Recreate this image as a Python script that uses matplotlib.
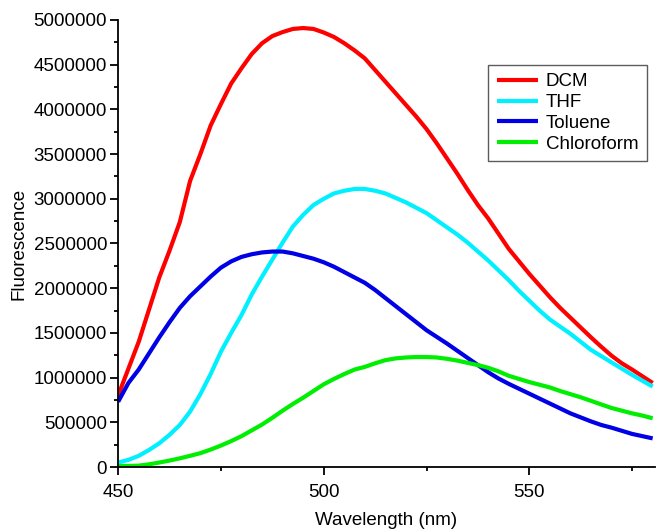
import matplotlib
matplotlib.use("Agg")
import matplotlib.pyplot as plt
from matplotlib.ticker import MultipleLocator, FuncFormatter

plt.rcParams['font.family'] = ['Liberation Sans', 'DejaVu Sans']

wavelength = [450, 452.5, 455, 457.5, 460, 462.5, 465, 467.5, 470, 472.5,
              475, 477.5, 480, 482.5, 485, 487.5, 490, 492.5, 495, 497.5,
              500, 502.5, 505, 507.5, 510, 512.5, 515, 517.5, 520, 522.5,
              525, 527.5, 530, 532.5, 535, 537.5, 540, 542.5, 545, 547.5,
              550, 552.5, 555, 557.5, 560, 562.5, 565, 567.5, 570, 572.5,
              575, 577.5, 580]

dcm = [800000, 1100000, 1400000, 1760000, 2120000, 2420000, 2740000, 3200000,
       3500000, 3820000, 4060000, 4290000, 4460000, 4620000, 4740000, 4820000,
       4865000, 4900000, 4910000, 4900000, 4860000, 4810000, 4740000, 4660000,
       4570000, 4440000, 4310000, 4180000, 4050000, 3920000, 3780000, 3620000,
       3450000, 3280000, 3100000, 2930000, 2780000, 2610000, 2440000, 2300000,
       2160000, 2030000, 1900000, 1780000, 1670000, 1560000, 1450000, 1345000,
       1245000, 1160000, 1090000, 1015000, 940000]

thf = [50000, 80000, 125000, 190000, 265000, 360000, 470000, 620000, 815000,
       1040000, 1290000, 1500000, 1700000, 1930000, 2130000, 2320000, 2510000,
       2690000, 2820000, 2930000, 3000000, 3060000, 3090000, 3110000, 3110000,
       3090000, 3060000, 3010000, 2960000, 2900000, 2840000, 2760000, 2680000,
       2600000, 2510000, 2410000, 2310000, 2200000, 2090000, 1970000, 1860000,
       1750000, 1650000, 1570000, 1490000, 1400000, 1310000, 1240000, 1170000,
       1100000, 1030000, 965000, 900000]

toluene = [730000, 940000, 1090000, 1270000, 1450000, 1620000, 1780000,
           1910000, 2020000, 2130000, 2230000, 2300000, 2350000, 2380000,
           2400000, 2410000, 2410000, 2390000, 2360000, 2330000, 2290000,
           2240000, 2180000, 2120000, 2060000, 1980000, 1890000, 1800000,
           1710000, 1620000, 1530000, 1455000, 1380000, 1300000, 1220000,
           1140000, 1060000, 990000, 930000, 875000, 820000, 765000, 710000,
           655000, 600000, 555000, 510000, 470000, 440000, 405000, 370000,
           345000, 320000]

chloroform = [10000, 12000, 15000, 30000, 50000, 72000, 97000, 125000, 155000,
              195000, 240000, 290000, 345000, 410000, 475000, 550000, 630000,
              705000, 775000, 850000, 925000, 985000, 1040000, 1090000,
              1120000, 1160000, 1195000, 1215000, 1225000, 1230000, 1230000,
              1225000, 1210000, 1190000, 1165000, 1140000, 1110000, 1070000,
              1020000, 985000, 950000, 920000, 890000, 850000, 815000, 780000,
              740000, 700000, 660000, 630000, 600000, 575000, 545000]

series_names = ['DCM', 'THF', 'Toluene', 'Chloroform']
series_values = [dcm, thf, toluene, chloroform]
colors = ['#ff0000', '#00f0ff', '#0000e6', '#00ee00']

fig = plt.figure(figsize=(6.6, 5.29), dpi=100)
ax = fig.add_axes([0.179, 0.1172, 0.813, 0.845])

for name, vals, c in zip(series_names, series_values, colors):
    ax.plot(wavelength, vals, color=c, lw=3, label=name, solid_capstyle='butt')

ax.set_xlim(450, 580.5)
ax.set_ylim(0, 5000000)

ax.xaxis.set_major_locator(MultipleLocator(50))
ax.xaxis.set_minor_locator(MultipleLocator(25))
ax.yaxis.set_major_locator(MultipleLocator(500000))
ax.yaxis.set_minor_locator(MultipleLocator(250000))
ax.yaxis.set_major_formatter(FuncFormatter(lambda v, p: '%d' % int(round(v))))

for s in ['top', 'right']:
    ax.spines[s].set_visible(False)
for s in ['left', 'bottom']:
    ax.spines[s].set_linewidth(1.3)

ax.tick_params(axis='both', which='major', direction='out', length=6, width=1.3,
               labelsize=13.5)
ax.tick_params(axis='y', which='major', pad=2)
ax.tick_params(axis='x', which='major', pad=6)
ax.tick_params(axis='both', which='minor', direction='out', length=3, width=1.3)

ax.set_xlabel('Wavelength (nm)', fontsize=13.5, labelpad=8)
ax.set_ylabel('Fluorescence', fontsize=13.5, labelpad=4)

leg = ax.legend(loc='upper right', bbox_to_anchor=(0.985, 0.9), fontsize=13.5,
                frameon=True, fancybox=False, handlelength=2.2,
                handletextpad=0.4, borderpad=0.45, labelspacing=0.2,
                borderaxespad=0)
leg.get_frame().set_edgecolor('#333333')
leg.get_frame().set_linewidth(1.0)

fig.savefig('out.png', dpi=100)
